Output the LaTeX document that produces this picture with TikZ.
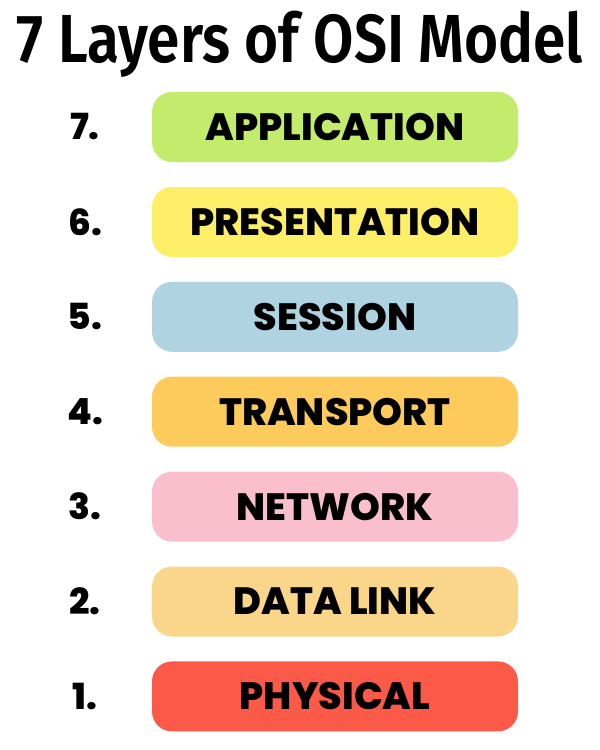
\documentclass[tikz,border=0pt]{standalone}
\usepackage{fontspec}
\setmainfont{Poppins}[UprightFont=* ExtraBold]
\newfontfamily\titlefont{Fira Sans}[UprightFont=* SemiBold]
\usetikzlibrary{positioning}
\definecolor{appgreen}{HTML}{C3EC6C}
\definecolor{presyellow}{HTML}{FDEE68}
\definecolor{sessblue}{HTML}{AFD3E0}
\definecolor{transorange}{HTML}{FDCB5C}
\definecolor{netpink}{HTML}{F9BFCC}
\definecolor{linkorange}{HTML}{FAD68B}
\definecolor{physred}{HTML}{FA5A47}
\tikzset{
  layer/.style={rounded corners=20pt, minimum width=366pt, minimum height=70pt,
    inner sep=0pt, font=\fontsize{38}{38}\selectfont},
  num/.style={font=\fontsize{36}{36}\selectfont, inner sep=0pt}
}
\begin{document}
\begin{tikzpicture}[x=1pt,y=-1pt]
    \useasboundingbox (0,0) rectangle (600,750);
    \node [anchor=base, xscale=0.86, transform shape, font=\titlefont\fontsize{68}{68}\selectfont, inner sep=0pt] (title) at (300,62) {7 Layers of OSI Model};
    % layers, top to bottom
    \foreach \n/\name/\col [count=\i from 0] in {7/APPLICATION/appgreen,6/PRESENTATION/presyellow,5/SESSION/sessblue,4/TRANSPORT/transorange,3/NETWORK/netpink,2/DATA LINK/linkorange,1/PHYSICAL/physred} {
      \node [layer, fill=\col] (l\n) at (335,127+94.9*\i) {\name};
      \node [num] (n\n) at (85,127+94.9*\i) {\n.};
    }
  \end{tikzpicture}
\end{document}
